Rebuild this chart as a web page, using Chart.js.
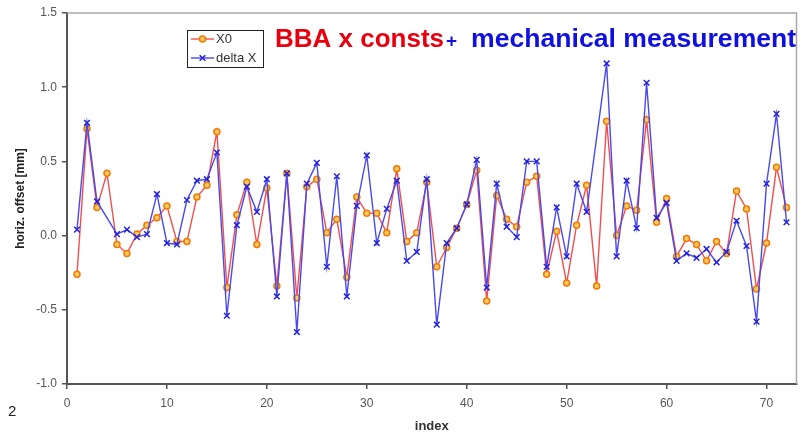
<!DOCTYPE html>
<html>
<head>
<meta charset="utf-8">
<title>BBA x consts + mechanical measurement</title>
<script src="https://cdn.jsdelivr.net/npm/chart.js@4.4.0/dist/chart.umd.min.js"></script>
<style>
  html, body { margin: 0; padding: 0; background: #fff; }
  #wrap { position: relative; width: 802px; height: 435px; }
  #pageNo { position: absolute; left: 8px; top: 402px; font: 15px "Liberation Sans", Arial, sans-serif; color: #222; }
</style>
</head>
<body>
<div id="wrap">
  <canvas id="offsetChart" width="802" height="435"></canvas>
  <div id="pageNo">2</div>
</div>
<script>
// magnet index along the line
const indexes = [1, 2, 3, 4, 5, 6, 7, 8, 9, 10, 11, 12, 13, 14, 15, 16, 17, 18, 19, 20,
    21, 22, 23, 24, 25, 26, 27, 28, 29, 30, 31, 32, 33, 34, 35, 36, 37, 38, 39, 40,
    41, 42, 43, 44, 45, 46, 47, 48, 49, 50, 51, 52, 53, 54, 55, 56, 57, 58, 59, 60,
    61, 62, 63, 64, 65, 66, 67, 68, 69, 70, 71, 72];

// X0 from BBA (mm)
const x0Values = [-0.26, 0.72, 0.19, 0.42, -0.06, -0.12, 0.01, 0.07, 0.12, 0.20,
    -0.04, -0.04, 0.26, 0.34, 0.70, -0.35, 0.14, 0.36, -0.06, 0.32,
    -0.34, 0.42, -0.42, 0.33, 0.38, 0.02, 0.11, -0.28, 0.26, 0.15,
    0.15, 0.02, 0.45, -0.04, 0.02, 0.36, -0.21, -0.08, 0.05, 0.21,
    0.44, -0.44, 0.27, 0.11, 0.06, 0.36, 0.40, -0.26, 0.03, -0.32,
    0.07, 0.34, -0.34, 0.77, 0.00, 0.20, 0.17, 0.78, 0.09, 0.25,
    -0.14, -0.02, -0.06, -0.17, -0.04, -0.12, 0.30, 0.18, -0.36, -0.05,
    0.46, 0.19];

// delta X, consts + mechanical measurement (mm); null = no value
const deltaXValues = [0.04, 0.76, 0.23, null, 0.01, 0.04, -0.01, 0.01, 0.28, -0.05,
    -0.06, 0.24, 0.37, 0.38, 0.56, -0.54, 0.07, 0.33, 0.16, 0.38,
    -0.41, 0.42, -0.65, 0.35, 0.49, -0.21, 0.40, -0.41, 0.20, 0.54,
    -0.05, 0.18, 0.37, -0.17, -0.11, 0.38, -0.60, -0.05, 0.05, 0.21,
    0.51, -0.35, 0.35, 0.06, -0.01, 0.50, 0.50, -0.21, 0.19, -0.14,
    0.35, 0.16, null, 1.16, -0.14, 0.37, 0.05, 1.03, 0.12, 0.22,
    -0.17, -0.12, -0.15, -0.09, -0.18, -0.11, 0.10, -0.07, -0.58, 0.35,
    0.82, 0.09];

const seriesNames = ['X0', 'delta X'];
const titleParts = ['BBA x consts', '+', 'mechanical measurement'];

const toPoints = (ys) => indexes.map((x, i) => ({x: x, y: ys[i]}));

const decorPlugin = {
    id: 'decor',
    afterDraw(chart) {
        const ctx = chart.ctx;
        const a = chart.chartArea;
        ctx.save();

        // light frame on top and right
        ctx.strokeStyle = '#a8a8a8';
        ctx.lineWidth = 1.5;
        ctx.beginPath();
        ctx.moveTo(a.left, a.top);
        ctx.lineTo(a.right, a.top);
        ctx.lineTo(a.right, a.bottom);
        ctx.stroke();

        // title, red part then blue part running up to the right frame
        ctx.textBaseline = 'alphabetic';
        ctx.font = 'bold 26px "Liberation Sans", Arial, sans-serif';
        ctx.fillStyle = '#e8000e';
        ctx.fillText(titleParts[0], 275, 47);
        ctx.font = 'bold 19px "Liberation Sans", Arial, sans-serif';
        ctx.fillStyle = '#1010e0';
        ctx.fillText(titleParts[1], 446, 47);
        ctx.font = 'bold 26px "Liberation Sans", Arial, sans-serif';
        const w = ctx.measureText(titleParts[2]).width;
        const size = 26 * (a.right - 471) / w;
        ctx.font = 'bold ' + size.toFixed(1) + 'px "Liberation Sans", Arial, sans-serif';
        ctx.fillText(titleParts[2], 471, 47);

        // legend box
        ctx.fillStyle = '#fff';
        ctx.fillRect(187, 30, 76, 37);
        ctx.strokeStyle = '#222';
        ctx.lineWidth = 1;
        ctx.strokeRect(187.5, 30.5, 76, 37);
        const legendOrder = [0, 1];
        legendOrder.forEach((dsIndex, row) => {
            const ds = chart.data.datasets[dsIndex];
            const y = 39 + row * 19;
            ctx.strokeStyle = ds.borderColor;
            ctx.lineWidth = ds.borderWidth;
            ctx.beginPath();
            ctx.moveTo(191, y);
            ctx.lineTo(214, y);
            ctx.stroke();
            ctx.fillStyle = ds.pointBackgroundColor;
            ctx.strokeStyle = ds.pointBorderColor;
            ctx.lineWidth = ds.pointBorderWidth;
            Chart.helpers.drawPoint(ctx, {
                pointStyle: ds.pointStyle,
                radius: ds.pointRadius,
                rotation: 0,
                borderWidth: ds.pointBorderWidth
            }, 202.5, y);
            ctx.fillStyle = '#333';
            ctx.font = '13px "Liberation Sans", Arial, sans-serif';
            ctx.textBaseline = 'middle';
            ctx.fillText(ds.label, 216, y);
        });
        ctx.restore();
    }
};

new Chart(document.getElementById('offsetChart'), {
    type: 'line',
    data: {
        datasets: [{
            label: seriesNames[0],
            data: toPoints(x0Values),
            borderColor: 'rgb(240,78,78)',
            borderWidth: 1.4,
            pointStyle: 'circle',
            pointRadius: 3,
            pointBorderWidth: 1.5,
            pointBorderColor: '#f07a00',
            pointBackgroundColor: '#ffc860',
            order: 1
        }, {
            label: seriesNames[1],
            data: toPoints(deltaXValues),
            borderColor: 'rgb(72,72,238)',
            borderWidth: 1.4,
            pointStyle: 'crossRot',
            pointRadius: 4,
            pointBorderWidth: 1.5,
            pointBorderColor: '#2222dd',
            pointBackgroundColor: '#2222dd',
            spanGaps: true,
            order: 0
        }]
    },
    options: {
        responsive: false,
        animation: false,
        layout: {padding: {top: 13, right: 5, left: 0, bottom: 0}},
        plugins: {
            legend: {display: false},
            tooltip: {enabled: false}
        },
        scales: {
            x: {
                type: 'linear',
                min: 0,
                max: 73,
                afterFit: (s) => { s.height = 51; },
                ticks: {
                    stepSize: 10,
                    includeBounds: false,
                    maxRotation: 0,
                    padding: 7,
                    color: '#555',
                    font: {family: '"Liberation Sans", Arial, sans-serif', size: 12}
                },
                grid: {drawOnChartArea: false, tickLength: 5, color: '#555', lineWidth: 1.5},
                border: {color: '#555', width: 2},
                title: {
                    display: true,
                    text: 'index',
                    color: '#333',
                    padding: {top: 0, bottom: 1},
                    font: {family: '"Liberation Sans", Arial, sans-serif', size: 13, weight: 'bold'}
                }
            },
            y: {
                min: -1,
                max: 1.5,
                afterFit: (s) => { s.width = 67; },
                ticks: {
                    stepSize: 0.5,
                    padding: 5,
                    color: '#555',
                    font: {family: '"Liberation Sans", Arial, sans-serif', size: 12},
                    callback: (v) => v.toFixed(1)
                },
                grid: {drawOnChartArea: false, tickLength: 5, color: '#555', lineWidth: 1.5},
                border: {color: '#555', width: 2},
                title: {
                    display: true,
                    text: 'horiz. offset [mm]',
                    color: '#222',
                    padding: {top: 13, bottom: 0},
                    font: {family: '"Liberation Sans", Arial, sans-serif', size: 12, weight: 'bold'}
                }
            }
        }
    },
    plugins: [decorPlugin]
});
</script>
</body>
</html>
